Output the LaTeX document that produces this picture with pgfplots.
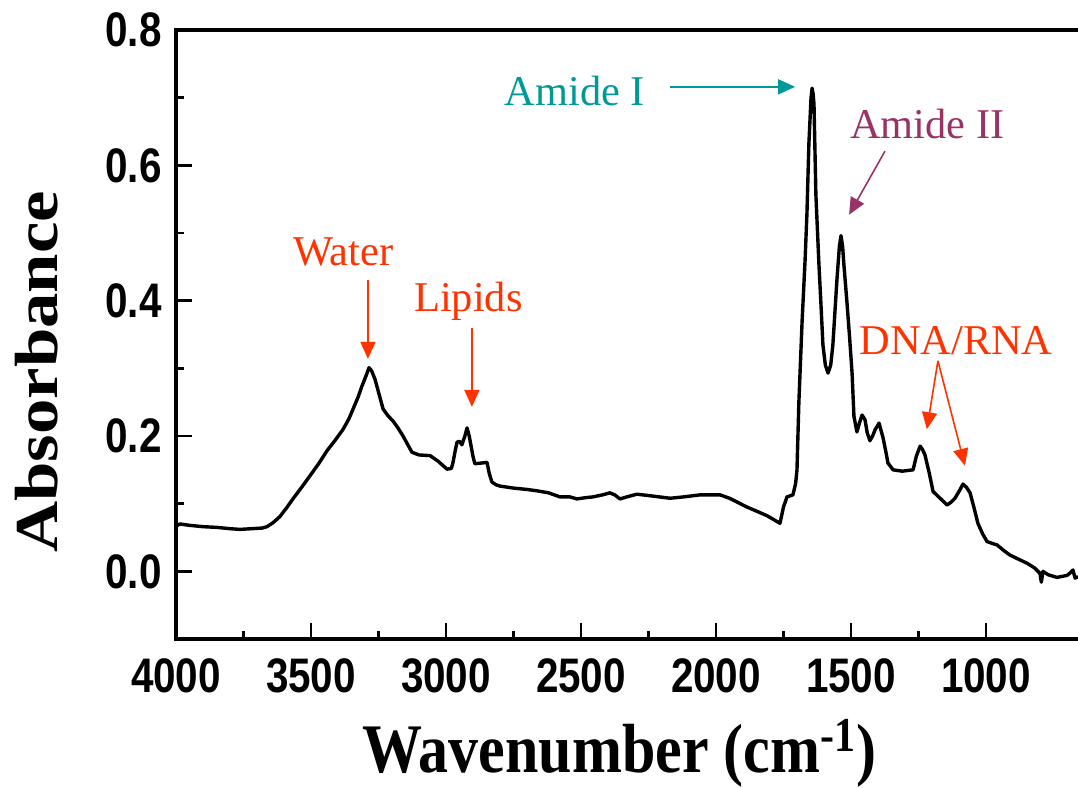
\documentclass[border=0pt]{standalone}
\usepackage{graphicx}
\usepackage{pgfplots}
\pgfplotsset{compat=1.18}
\usepackage{fontspec}
\setmainfont{Liberation Serif}
\newfontfamily\arialf{Liberation Sans}
\usetikzlibrary{arrows.meta}
\definecolor{annred}{RGB}{255,51,0}
\definecolor{annteal}{RGB}{0,153,153}
\definecolor{annpurp}{RGB}{153,51,102}
\newcommand{\tl}[1]{\scalebox{1}[1.2]{\fontsize{20.2}{23}\selectfont\arialf\bfseries #1}}
\pgfplotstableread{
wn A
3995 0.068
3985 0.070
3950 0.068
3900 0.066
3850 0.065
3800 0.063
3763 0.062
3720 0.063
3680 0.064
3663 0.066
3640 0.072
3615 0.081
3590 0.094
3567 0.107
3535 0.124
3504 0.141
3470 0.160
3441 0.178
3410 0.194
3381 0.210
3360 0.225
3344 0.240
3325 0.258
3311 0.274
3295 0.290
3285 0.301
3275 0.296
3263 0.284
3248 0.262
3233 0.240
3215 0.230
3196 0.222
3178 0.212
3159 0.200
3140 0.186
3126 0.176
3100 0.172
3059 0.171
3030 0.163
2996 0.151
2980 0.152
2974 0.161
2965 0.180
2959 0.191
2950 0.192
2941 0.187
2930 0.200
2922 0.212
2914 0.200
2907 0.185
2900 0.170
2893 0.159
2870 0.160
2848 0.161
2840 0.145
2830 0.132
2815 0.128
2800 0.126
2750 0.123
2700 0.121
2663 0.119
2620 0.116
2578 0.110
2541 0.110
2515 0.107
2480 0.109
2456 0.110
2420 0.113
2393 0.116
2375 0.113
2356 0.107
2330 0.110
2293 0.114
2250 0.112
2210 0.110
2170 0.108
2120 0.110
2059 0.113
2020 0.113
1985 0.113
1950 0.108
1920 0.102
1885 0.095
1850 0.089
1810 0.082
1780 0.075
1763 0.071
1750 0.095
1737 0.110
1715 0.113
1705 0.130
1700 0.150
1693 0.250
1681 0.370
1670 0.460
1663 0.530
1656 0.631
1648 0.700
1644 0.714
1640 0.705
1637 0.690
1630 0.557
1619 0.456
1610 0.385
1604 0.335
1595 0.305
1585 0.293
1575 0.305
1567 0.335
1560 0.380
1552 0.431
1543 0.480
1537 0.496
1531 0.480
1526 0.452
1515 0.398
1505 0.345
1496 0.293
1489 0.229
1478 0.206
1468 0.220
1459 0.231
1448 0.224
1440 0.205
1430 0.193
1420 0.200
1411 0.209
1396 0.219
1381 0.197
1370 0.175
1363 0.160
1344 0.150
1310 0.148
1270 0.150
1258 0.170
1244 0.185
1235 0.180
1226 0.172
1210 0.145
1196 0.118
1170 0.108
1144 0.098
1130 0.102
1115 0.108
1100 0.118
1085 0.129
1072 0.124
1059 0.116
1045 0.095
1030 0.071
1012 0.055
996 0.044
975 0.041
959 0.039
935 0.031
911 0.024
880 0.018
848 0.012
820 0.005
800 -0.003
795 -0.016
789 0.000
770 -0.005
737 -0.009
700 -0.006
690 -0.003
678 0.002
670 -0.010
659 -0.008
}\spectrum
\begin{document}
\begin{tikzpicture}
\begin{axis}[
  at={(0,0)}, anchor=south west,
  scale only axis, width=452.25pt, height=304.5pt,
  x dir=reverse, xmin=650, xmax=4000, ymin=-0.1, ymax=0.8,
  xtick={1000,1500,2000,2500,3000,3500,4000},
  xticklabels={\tl{1000},\tl{1500},\tl{2000},\tl{2500},\tl{3000},\tl{3500},\tl{4000}},
  minor x tick num=1,
  ytick={0,0.2,0.4,0.6,0.8},
  yticklabels={\tl{0.0},\tl{0.2},\tl{0.4},\tl{0.6},\tl{0.8}},
  minor y tick num=1,
  tick pos=left, tick align=inside,
  major tick length=8pt, minor tick length=4pt,
  tick style={line width=1.4pt, black},
  axis line style={line width=1.6pt},
  xticklabel style={inner ysep=0pt, yshift=-9.5pt},
  yticklabel style={inner xsep=0pt, xshift=-7pt},
  xlabel={\scalebox{1}[1.16]{\fontsize{30}{36}\selectfont\bfseries Wavenumber (cm\textsuperscript{-1})}},
  xlabel style={at={(axis description cs:0.49,-0.2185)}, anchor=base, inner sep=0pt},
  ylabel={\scalebox{1.16}[1]{\fontsize{30.5}{36}\selectfont\bfseries Absorbance}},
  ylabel style={at={(axis description cs:-0.154,0.439)}, anchor=center, inner sep=0pt},
]
\addplot[black, line width=1.7pt, line join=round] table[x=wn, y=A] {\spectrum};

\begin{scope}[every node/.style={font=\fontsize{21.2}{25}\selectfont, anchor=base, inner sep=0pt},
  arr/.style={line width=0.8pt, -{Triangle[length=8.5pt,width=7.5pt]}}]
\node[text=annred] at (axis cs:3380,0.452) {Water};
\draw[arr, annred] (axis cs:3289,0.430) -- (axis cs:3289,0.314);
\node[text=annred] at (axis cs:2917,0.384) {Lipids};
\draw[arr, annred] (axis cs:2904,0.360) -- (axis cs:2904,0.243);
\node[text=annteal] at (axis cs:2522,0.689) {Amide I};
\draw[arr, annteal] (axis cs:2170,0.716) -- (axis cs:1707,0.716);
\node[text=annpurp] at (axis cs:1217,0.640) {Amide II};
\draw[arr, annpurp] (axis cs:1374,0.621) -- (axis cs:1507,0.527);
\node[text=annred] at (axis cs:1111,0.321) {DNA/RNA};
\draw[arr, annred] (axis cs:1178,0.311) -- (axis cs:1219,0.210);
\draw[arr, annred] (axis cs:1178,0.311) -- (axis cs:1078,0.156);
\end{scope}
\end{axis}
\pgfresetboundingbox
\path[use as bounding box] (-88pt,-74.5pt) rectangle (451pt,319.5pt);
\end{tikzpicture}
\end{document}
